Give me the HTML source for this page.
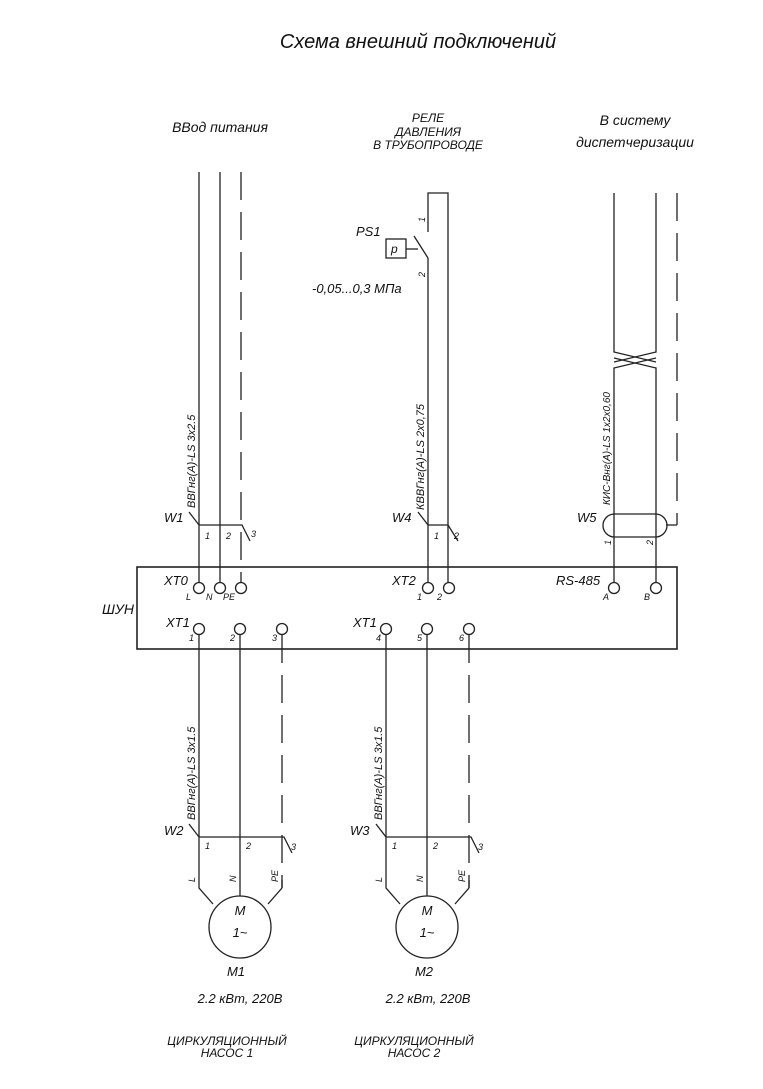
<!DOCTYPE html>
<html><head><meta charset="utf-8"><style>
html,body{margin:0;padding:0;background:#fff;}
svg{display:block;}
text{font-family:"Liberation Sans","DejaVu Sans",sans-serif;font-style:italic;fill:#111;}
</style></head><body>
<svg width="763" height="1089" viewBox="0 0 763 1089" xmlns="http://www.w3.org/2000/svg">
<g stroke="#222" stroke-width="1.3" fill="none">
<line x1="199" y1="172" x2="199" y2="583"/>
<line x1="220" y1="172" x2="220" y2="583"/>
<line x1="241" y1="172" x2="241" y2="583" stroke-dasharray="28,12"/>
<polyline points="189,512 199,525 242,525 250,541"/>
<polyline points="428,232 428,193 448,193 448,583"/>
<line x1="428" y1="258" x2="428" y2="583"/>
<line x1="414" y1="236" x2="428" y2="258"/>
<rect x="386" y="239" width="20" height="19"/>
<line x1="406" y1="249" x2="418" y2="249"/>
<polyline points="418,512 428,525 448,525 458,541"/>
<polyline points="614,193 614,352 656,362"/>
<polyline points="656,193 656,352 614,362"/>
<polyline points="614,583 614,368 656,358"/>
<polyline points="656,583 656,368 614,358"/>
<line x1="677" y1="193" x2="677" y2="525" stroke-dasharray="28,12"/>
<line x1="666" y1="525" x2="677" y2="525"/>
<rect x="603" y="514" width="64" height="23" rx="11.5"/>
<rect x="137" y="567" width="540" height="82" stroke-width="1.6"/>
<circle cx="199" cy="588" r="5.5"/><circle cx="220" cy="588" r="5.5"/><circle cx="241" cy="588" r="5.5"/>
<circle cx="428" cy="588" r="5.5"/><circle cx="449" cy="588" r="5.5"/>
<circle cx="614" cy="588" r="5.5"/><circle cx="656" cy="588" r="5.5"/>
<circle cx="199" cy="629" r="5.5"/><circle cx="240" cy="629" r="5.5"/><circle cx="282" cy="629" r="5.5"/>
<circle cx="386" cy="629" r="5.5"/><circle cx="427" cy="629" r="5.5"/><circle cx="469" cy="629" r="5.5"/>
<polyline points="199,635 199,888 213,904"/>
<line x1="240" y1="635" x2="240" y2="896"/>
<line x1="282" y1="635" x2="282" y2="888" stroke-dasharray="28,12"/>
<line x1="282" y1="880" x2="282" y2="888"/>
<line x1="282" y1="888" x2="268" y2="904"/>
<polyline points="189,824 199,837 284,837 292,853"/>
<circle cx="240" cy="927" r="31"/>
<polyline points="386,635 386,888 400,904"/>
<line x1="427" y1="635" x2="427" y2="896"/>
<line x1="469" y1="635" x2="469" y2="888" stroke-dasharray="28,12"/>
<line x1="469" y1="880" x2="469" y2="888"/>
<line x1="469" y1="888" x2="455" y2="904"/>
<polyline points="376,824 386,837 471,837 479,853"/>
<circle cx="427" cy="927" r="31"/>
</g>
<g font-size="13">
<text x="418" y="48" font-size="20" text-anchor="middle">Схема внешний подключений</text>
<text x="220" y="132" font-size="14" text-anchor="middle">ВВод питания</text>
<text x="428" y="122" font-size="12" text-anchor="middle">РЕЛЕ</text>
<text x="428" y="136" font-size="12" text-anchor="middle">ДАВЛЕНИЯ</text>
<text x="428" y="149" font-size="12" text-anchor="middle">В ТРУБОПРОВОДЕ</text>
<text x="635" y="125" font-size="14" text-anchor="middle">В систему</text>
<text x="635" y="147" font-size="14" text-anchor="middle">диспетчеризации</text>
<text x="356" y="236" font-size="13">PS1</text>
<text x="391" y="253" font-size="12">p</text>
<text x="312" y="293" font-size="13">-0,05...0,3 МПа</text>
<text x="164" y="522">W1</text>
<text x="392" y="522">W4</text>
<text x="577" y="522">W5</text>
<text x="164" y="835">W2</text>
<text x="350" y="835">W3</text>
<text x="102" y="614" font-size="14">ШУН</text>
<text x="164" y="585">XT0</text>
<text x="392" y="585">XT2</text>
<text x="556" y="585">RS-485</text>
<text x="166" y="627">XT1</text>
<text x="353" y="627">XT1</text>
<text x="236" y="976" text-anchor="middle">M1</text>
<text x="424" y="976" text-anchor="middle">M2</text>
<text x="240" y="1003" text-anchor="middle">2.2 кВт, 220В</text>
<text x="428" y="1003" text-anchor="middle">2.2 кВт, 220В</text>
<text x="227" y="1045" font-size="12" text-anchor="middle">ЦИРКУЛЯЦИОННЫЙ</text>
<text x="227" y="1057" font-size="12" text-anchor="middle">НАСОС 1</text>
<text x="414" y="1045" font-size="12" text-anchor="middle">ЦИРКУЛЯЦИОННЫЙ</text>
<text x="414" y="1057" font-size="12" text-anchor="middle">НАСОС 2</text>
<text x="240" y="915" text-anchor="middle">M</text>
<text x="240" y="937" text-anchor="middle">1~</text>
<text x="427" y="915" text-anchor="middle">M</text>
<text x="427" y="937" text-anchor="middle">1~</text>
</g>
<g font-size="9">
<text x="205" y="539">1</text><text x="226" y="539">2</text><text x="251" y="537">3</text>
<text x="434" y="539">1</text><text x="454" y="539">2</text>
<text x="186" y="600">L</text><text x="206" y="600">N</text><text x="223" y="600">PE</text>
<text x="417" y="600">1</text><text x="437" y="600">2</text>
<text x="603" y="600">A</text><text x="644" y="600">B</text>
<text x="189" y="641">1</text><text x="230" y="641">2</text><text x="272" y="641">3</text>
<text x="376" y="641">4</text><text x="417" y="641">5</text><text x="459" y="641">6</text>
<text x="205" y="849">1</text><text x="246" y="849">2</text><text x="291" y="850">3</text>
<text x="392" y="849">1</text><text x="433" y="849">2</text><text x="478" y="850">3</text>
<text transform="translate(195,508) rotate(-90)" font-size="11">ВВГнг(А)-LS 3х2.5</text>
<text transform="translate(424,510) rotate(-90)" font-size="11">КВВГнг(А)-LS 2х0,75</text>
<text transform="translate(610,505) rotate(-90)" font-size="10">КИС-Внг(А)-LS 1х2х0,60</text>
<text transform="translate(195,820) rotate(-90)" font-size="11">ВВГнг(А)-LS 3х1.5</text>
<text transform="translate(382,820) rotate(-90)" font-size="11">ВВГнг(А)-LS 3х1.5</text>
<text transform="translate(425,222) rotate(-90)">1</text>
<text transform="translate(425,277) rotate(-90)">2</text>
<text transform="translate(611,545) rotate(-90)">1</text>
<text transform="translate(653,545) rotate(-90)">2</text>
<text transform="translate(195,882) rotate(-90)">L</text>
<text transform="translate(236,882) rotate(-90)">N</text>
<text transform="translate(278,882) rotate(-90)">PE</text>
<text transform="translate(382,882) rotate(-90)">L</text>
<text transform="translate(423,882) rotate(-90)">N</text>
<text transform="translate(465,882) rotate(-90)">PE</text>
</g>
</svg>
</body></html>
